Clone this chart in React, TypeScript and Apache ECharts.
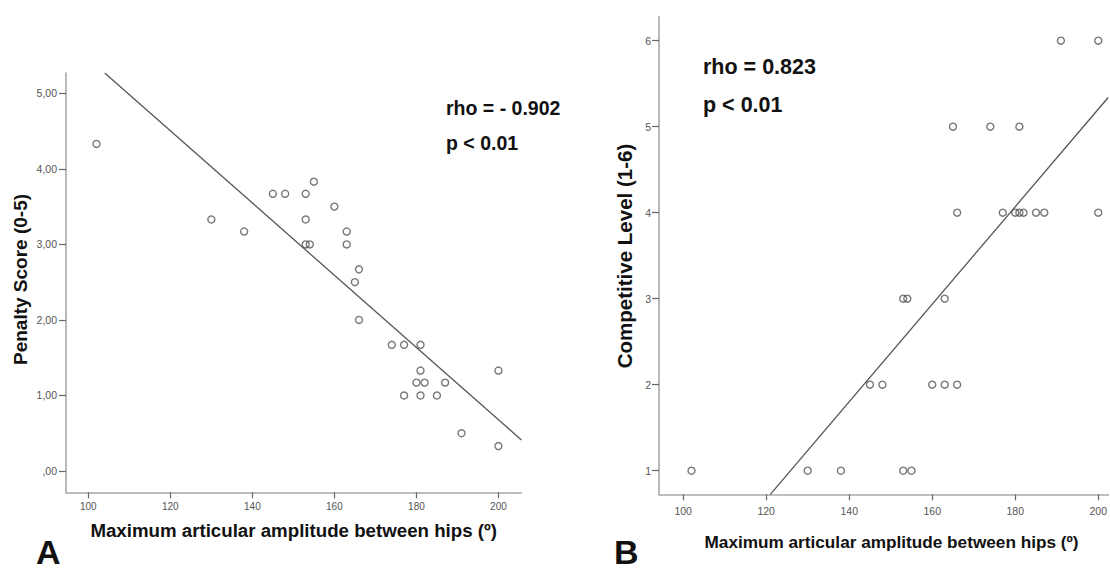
import React, { useEffect, useRef } from "react";
import * as echarts from "echarts";

// Panel A: amplitude (x) vs penalty score (y)
const ampA = [102, 130, 138, 145, 148, 153, 155, 160, 153, 153, 154, 163, 163, 166, 165, 166, 174, 177, 181, 181, 180, 182, 187, 177, 181, 185, 191, 200, 200];
const penalty = [4.33, 3.33, 3.17, 3.67, 3.67, 3.67, 3.83, 3.5, 3.33, 3.0, 3.0, 3.17, 3.0, 2.67, 2.5, 2.0, 1.67, 1.67, 1.67, 1.33, 1.17, 1.17, 1.17, 1.0, 1.0, 1.0, 0.5, 1.33, 0.33];
// Panel B: amplitude (x) vs competitive level (y)
const ampB = [102, 130, 138, 153, 155, 145, 148, 160, 163, 166, 153, 154, 163, 166, 177, 180, 181, 182, 185, 187, 200, 165, 174, 181, 191, 200];
const level = [1, 1, 1, 1, 1, 2, 2, 2, 2, 2, 3, 3, 3, 4, 4, 4, 4, 4, 4, 4, 4, 5, 5, 5, 6, 6];

// Fit line endpoints
const fitAx = [104, 205.6];
const fitAy = [5.27, 0.41];
const fitBx = [121, 202.4];
const fitBy = [0.725, 5.34];

const xTicks = [100, 120, 140, 160, 180, 200];
const yTicksA = [0, 1, 2, 3, 4, 5];
const yTicksB = [1, 2, 3, 4, 5, 6];

const textsA = ["rho = - 0.902", "p < 0.01"];
const textsB = ["rho = 0.823", "p < 0.01"];
const xName = "Maximum articular amplitude between hips (º)";
const yNameA = "Penalty Score (0-5)";
const yNameB = "Competitive Level (1-6)";

const FONT = "'Liberation Sans', Arial, sans-serif";

export default function App() {
  const ref = useRef<HTMLDivElement>(null);
  useEffect(() => {
    if (!ref.current) return;
    const chart = echarts.init(ref.current, undefined, { renderer: "svg" });
    const axisLine = { show: true, onZero: false, lineStyle: { color: "#a8a8a8", width: 1.6 } };
    const tickStyle = { color: "#666", width: 1.2 };
    const mkX = (gridIndex: number, min: number, max: number, fs: number, margin: number) => ({
      type: "value",
      gridIndex,
      min,
      max,
      axisLine,
      axisTick: { show: true, length: 6, lineStyle: tickStyle, customValues: xTicks },
      axisLabel: { customValues: xTicks, margin, fontSize: fs, color: "#555", fontFamily: FONT },
      splitLine: { show: false },
    });
    const point = (xs: number[], ys: number[]) => xs.map((x, i) => [x, ys[i]]);
    const scatterStyle = {
      symbol: "circle",
      symbolSize: 7,
      itemStyle: { color: "rgba(0,0,0,0)", borderColor: "#555", borderWidth: 1.4 },
    };
    const lineStyle = { color: "#555", width: 1.3 };
    const bigText = (text: string, x: number, y: number, size: number) => ({
      type: "text",
      x,
      y,
      style: { text, fontSize: size, fontWeight: "bold", fontFamily: FONT, fill: "#111", align: "left", verticalAlign: "middle" },
    });
    const option = {
      animation: false,
      backgroundColor: "#fff",
      grid: [
        { left: 66, top: 73, width: 455.4, height: 419.3, containLabel: false },
        { left: 659, top: 16.7, right: 0, height: 477.6, containLabel: false },
      ],
      xAxis: [mkX(0, 94.56, 205.6, 10, 9), mkX(1, 94.17, 202.45, 10.5, 11)],
      yAxis: [
        {
          type: "value",
          gridIndex: 0,
          min: -0.282,
          max: 5.269,
          axisLine,
          axisTick: { show: true, length: 7, lineStyle: tickStyle, customValues: yTicksA },
          axisLabel: {
            customValues: yTicksA,
            margin: 9,
            fontSize: 10.5,
            color: "#555",
            fontFamily: FONT,
            formatter: (v: number) => (v === 0 ? ",00" : v.toFixed(2).replace(".", ",")),
          },
          splitLine: { show: false },
        },
        {
          type: "value",
          gridIndex: 1,
          min: 0.7256,
          max: 6.279,
          axisLine,
          axisTick: { show: true, length: 7, lineStyle: tickStyle, customValues: yTicksB },
          axisLabel: { customValues: yTicksB, margin: 8, fontSize: 10.5, color: "#555", fontFamily: FONT },
          splitLine: { show: false },
        },
      ],
      series: [
        { type: "line", xAxisIndex: 0, yAxisIndex: 0, data: point(fitAx, fitAy), showSymbol: false, lineStyle, clip: true, z: 2 },
        { type: "scatter", xAxisIndex: 0, yAxisIndex: 0, data: point(ampA, penalty), ...scatterStyle, z: 3 },
        { type: "line", xAxisIndex: 1, yAxisIndex: 1, data: point(fitBx, fitBy), showSymbol: false, lineStyle, clip: true, z: 2 },
        { type: "scatter", xAxisIndex: 1, yAxisIndex: 1, data: point(ampB, level), ...scatterStyle, z: 3 },
      ],
      graphic: [
        bigText(textsA[0], 446, 108, 19.5),
        bigText(textsA[1], 446, 143, 19.5),
        bigText(textsB[0], 703, 66.7, 21.5),
        bigText(textsB[1], 703, 105, 21.5),
        {
          type: "text",
          x: 293.7,
          y: 530,
          style: { text: xName, fontSize: 18.7, fontWeight: "bold", fontFamily: FONT, fill: "#111", align: "center", verticalAlign: "middle" },
        },
        {
          type: "text",
          x: 891.5,
          y: 542,
          style: { text: xName, fontSize: 17.2, fontWeight: "bold", fontFamily: FONT, fill: "#111", align: "center", verticalAlign: "middle" },
        },
        {
          type: "text",
          x: 20,
          y: 279.5,
          rotation: Math.PI / 2,
          style: { text: yNameA, fontSize: 19, fontWeight: "bold", fontFamily: FONT, fill: "#111", align: "center", verticalAlign: "middle" },
        },
        {
          type: "text",
          x: 624.5,
          y: 256,
          rotation: Math.PI / 2,
          style: { text: yNameB, fontSize: 20.5, fontWeight: "bold", fontFamily: FONT, fill: "#111", align: "center", verticalAlign: "middle" },
        },
        {
          type: "text",
          x: 36,
          y: 552,
          style: { text: "A", fontSize: 34, fontWeight: "bold", fontFamily: FONT, fill: "#111", align: "left", verticalAlign: "middle" },
        },
        {
          type: "text",
          x: 614,
          y: 552,
          style: { text: "B", fontSize: 34, fontWeight: "bold", fontFamily: FONT, fill: "#111", align: "left", verticalAlign: "middle" },
        },
      ],
    };
    chart.setOption(option as any);
    return () => chart.dispose();
  }, []);
  return <div ref={ref} style={{ position: "fixed", left: 0, top: 0, width: 1110, height: 572, background: "#fff" }} />;
}
